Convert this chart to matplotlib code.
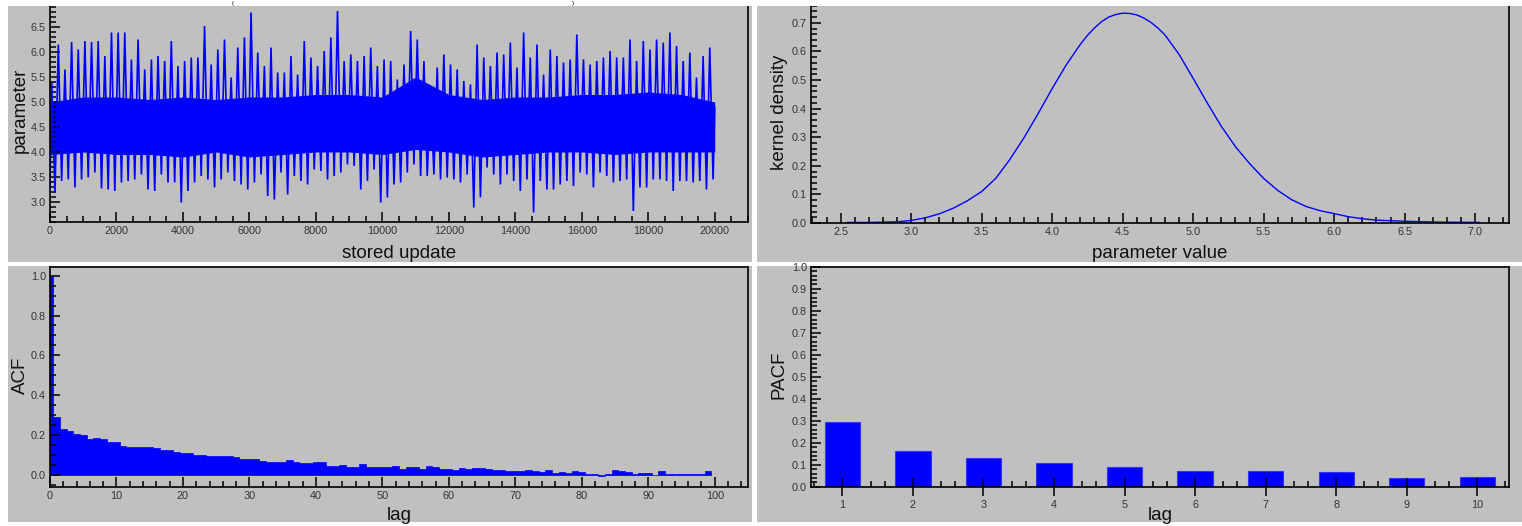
import matplotlib
matplotlib.use("Agg")
import matplotlib.pyplot as plt
from matplotlib.patches import Rectangle
from matplotlib.ticker import MultipleLocator, FixedLocator

plt.rcParams['font.family'] = ['Liberation Sans', 'DejaVu Sans']

# trace: upper / lower envelope per block of 200 stored updates
trace_hi = [5.39, 6.15, 5.65, 6.20, 6.05, 6.22, 6.20, 6.22, 5.92, 6.39,
            6.39, 6.39, 5.85, 6.25, 5.65, 5.85, 5.92, 5.82, 6.22, 5.72,
            5.82, 5.89, 5.89, 6.52, 5.75, 6.05, 6.25, 5.49, 6.09, 6.29,
            6.79, 5.99, 5.72, 6.09, 5.59, 5.59, 5.92, 5.55, 6.22, 5.89,
            5.72, 6.02, 6.29, 6.82, 5.82, 5.95, 5.82, 5.92, 6.09, 5.72,
            5.85, 5.82, 5.45, 5.75, 6.42, 6.25, 5.82, 5.22, 5.69, 5.95,
            5.75, 5.65, 5.42, 5.35, 6.15, 5.89, 5.72, 5.99, 5.95, 6.19,
            5.69, 6.39, 5.89, 6.15, 5.55, 6.05, 5.92, 5.79, 5.85, 6.35,
            5.85, 5.75, 5.82, 5.89, 6.02, 5.89, 5.89, 6.25, 5.82, 6.22,
            6.05, 6.25, 6.19, 6.39, 6.12, 5.82, 5.99, 5.49, 5.92, 6.09]
trace_lo = [3.19, 3.42, 3.45, 3.29, 3.45, 3.49, 3.59, 3.27, 3.25, 3.22,
            3.39, 3.42, 3.45, 3.55, 3.25, 3.22, 3.55, 3.39, 3.39, 2.99,
            3.22, 3.39, 3.52, 3.45, 3.29, 3.45, 3.59, 3.42, 3.35, 3.25,
            3.39, 3.55, 3.12, 3.05, 3.59, 3.15, 3.52, 3.42, 3.35, 3.65,
            3.62, 3.45, 3.52, 3.59, 3.75, 3.72, 3.25, 3.42, 3.65, 2.99,
            3.09, 3.35, 3.39, 3.59, 3.75, 3.52, 3.52, 3.55, 3.45, 3.49,
            3.45, 3.39, 3.55, 2.89, 3.09, 3.69, 3.55, 3.35, 3.55, 3.42,
            3.22, 3.45, 2.79, 3.42, 3.25, 3.25, 3.35, 3.42, 3.32, 3.59,
            3.55, 3.29, 3.59, 3.52, 3.39, 3.42, 3.45, 2.82, 3.29, 3.29,
            3.45, 3.45, 3.42, 3.22, 3.42, 3.42, 3.39, 3.42, 3.25, 3.45]
block_size = 200
first_value = 3.3
last_value = 4.88

# dense core of the trace, every 1000 updates
core_updates = list(range(0, 20001, 1000))
core_hi = [5.0, 5.1, 5.1, 5.05, 5.1, 5.05, 5.1, 5.1, 5.15, 5.15, 5.1,
           5.5, 5.15, 5.05, 5.1, 5.1, 5.15, 5.15, 5.2, 5.15, 5.0]
core_lo = [3.95, 4.0, 3.95, 3.95, 3.9, 4.0, 3.9, 3.95, 4.0, 4.0, 3.95,
           4.05, 4.0, 3.9, 3.95, 4.0, 4.0, 3.95, 4.0, 4.0, 4.0]

# kernel density
kd_x = [2.55, 2.7, 2.9, 3.0, 3.1, 3.2, 3.3, 3.4, 3.5, 3.6, 3.7, 3.8, 3.9,
        4.0, 4.1, 4.2, 4.25, 4.3, 4.35, 4.4, 4.45, 4.5, 4.55, 4.6, 4.65,
        4.7, 4.75, 4.8, 4.9, 5.0, 5.1, 5.2,
        5.3, 5.4, 5.5, 5.6, 5.7, 5.8, 5.9, 6.0, 6.1, 6.2, 6.3, 6.5, 6.75, 7.03]
kd_y = [0.002, 0.002, 0.004, 0.009, 0.018, 0.032, 0.052, 0.078, 0.110,
        0.156, 0.222, 0.298, 0.382, 0.470, 0.553, 0.625, 0.656, 0.682,
        0.704, 0.720, 0.729, 0.734, 0.733, 0.728, 0.717, 0.702, 0.682,
        0.658, 0.590, 0.506, 0.420, 0.338, 0.267,
        0.208, 0.156, 0.114, 0.081, 0.058, 0.043, 0.033, 0.022, 0.015,
        0.010, 0.006, 0.003, 0.002]

# autocorrelation, lags 0..99
acf = [1.0, 0.29, 0.23, 0.22, 0.203, 0.198, 0.18, 0.185, 0.18, 0.165,
       0.165, 0.147, 0.14, 0.14, 0.14, 0.14, 0.134, 0.127, 0.127, 0.115,
       0.11, 0.11, 0.10, 0.10, 0.093, 0.093, 0.093, 0.093, 0.088, 0.081,
       0.081, 0.081, 0.071, 0.066, 0.066, 0.066, 0.076, 0.066, 0.06, 0.06,
       0.066, 0.066, 0.047, 0.047, 0.052, 0.042, 0.042, 0.054, 0.04, 0.04,
       0.039, 0.039, 0.045, 0.028, 0.039, 0.039, 0.028, 0.045, 0.039, 0.032,
       0.028, 0.025, 0.034, 0.03, 0.034, 0.034, 0.03, 0.025, 0.025, 0.02,
       0.02, 0.02, 0.025, 0.02, 0.015, 0.025, 0.008, 0.013, 0.008, 0.018,
       0.013, 0.006, 0.006, -0.003, 0.006, 0.023, 0.018, 0.013, 0.006, 0.012,
       0.012, 0.0, 0.018, 0.006, 0.006, 0.006, 0.006, 0.006, 0.006, 0.018]

# partial autocorrelation, lags 1..10
pacf_lags = [1, 2, 3, 4, 5, 6, 7, 8, 9, 10]
pacf = [0.295, 0.162, 0.13, 0.106, 0.089, 0.07, 0.07, 0.065, 0.038, 0.042]

W, H = 1522, 526
GRAY = '#c0c0c0'
BLUE = '#0000ff'
TICKCOL = '#333333'

fig = plt.figure(figsize=(W / 100, H / 100), dpi=100, facecolor='white')


def px_axes(left, right, top, bottom):
    return fig.add_axes([left / W, 1 - bottom / H, (right - left) / W, (bottom - top) / H])


def panel(x0, x1, y0, y1):
    fig.patches.append(Rectangle((x0 / W, 1 - y1 / H), (x1 - x0) / W, (y1 - y0) / H,
                                 transform=fig.transFigure, facecolor=GRAY,
                                 edgecolor='none', zorder=-5))


def style(ax):
    ax.set_facecolor(GRAY)
    for s in ax.spines.values():
        s.set_color('black')
        s.set_linewidth(1.2)
    ax.tick_params(which='both', direction='in', color='black', labelcolor=TICKCOL,
                   labelsize=7.8, width=1.1, top=False, right=False)
    ax.tick_params(which='major', length=7, pad=3)
    ax.tick_params(which='minor', length=4)


panel(8, 752, 6, 262)
panel(757, W, 6, 262)
panel(8, 752, 266, 522)
panel(757, W, 266, 522)

# trace
ax1 = px_axes(50, 748, -4, 222)
style(ax1)
ax1.spines['top'].set_visible(False)
tx, ty = [0], [first_value]
for i, (hi, lo) in enumerate(zip(trace_hi, trace_lo)):
    tx += [i * block_size + 50, i * block_size + 150]
    ty += [hi, lo]
tx.append(20000)
ty.append(last_value)
ax1.fill_between(core_updates, core_lo, core_hi, color=BLUE, lw=0)
ax1.plot(tx, ty, color=BLUE, lw=1.2, solid_joinstyle='miter')
ax1.set_xlim(0, 21000)
ax1.set_ylim(2.6, 7.12)
ax1.xaxis.set_major_locator(MultipleLocator(2000))
ax1.xaxis.set_minor_locator(MultipleLocator(500))
ax1.yaxis.set_major_locator(FixedLocator([3.0, 3.5, 4.0, 4.5, 5.0, 5.5, 6.0, 6.5]))
ax1.yaxis.set_minor_locator(MultipleLocator(0.1))
ax1.set_yticklabels(['3.0', '3.5', '4.0', '4.5', '5.0', '5.5', '6.0', '6.5'])

# kernel density
ax2 = px_axes(811, 1509, -4, 223)
style(ax2)
ax2.spines['top'].set_visible(False)
ax2.plot(kd_x, kd_y, color=BLUE, lw=1.0)
ax2.set_xlim(2.29, 7.24)
ax2.set_ylim(0, 0.794)
ax2.xaxis.set_major_locator(FixedLocator([2.5, 3.0, 3.5, 4.0, 4.5, 5.0, 5.5, 6.0, 6.5, 7.0]))
ax2.xaxis.set_minor_locator(MultipleLocator(0.1))
ax2.yaxis.set_major_locator(FixedLocator([0.0, 0.1, 0.2, 0.3, 0.4, 0.5, 0.6, 0.7]))
ax2.yaxis.set_minor_locator(MultipleLocator(0.02))
ax2.set_xticklabels(['2.5', '3.0', '3.5', '4.0', '4.5', '5.0', '5.5', '6.0', '6.5', '7.0'])
ax2.set_yticklabels(['0.0', '0.1', '0.2', '0.3', '0.4', '0.5', '0.6', '0.7'])

# ACF
ax3 = px_axes(50, 748, 266.7, 486.7)
style(ax3)
ax3.bar(range(len(acf)), acf, width=1.0, color=BLUE, edgecolor=BLUE, lw=0.5)
ax3.set_xlim(0, 105)
ax3.set_ylim(-0.059, 1.045)
ax3.xaxis.set_minor_locator(MultipleLocator(2))
ax3.set_xticks(range(0, 101, 10))
ax3.yaxis.set_major_locator(FixedLocator([0.0, 0.2, 0.4, 0.6, 0.8, 1.0]))
ax3.yaxis.set_minor_locator(MultipleLocator(0.05))
ax3.set_yticklabels(['0.0', '0.2', '0.4', '0.6', '0.8', '1.0'])

# PACF
ax4 = px_axes(811, 1509, 266.7, 486.7)
style(ax4)
ax4.bar(pacf_lags, pacf, width=0.5, color=BLUE, edgecolor='#3333ff', lw=0.8)
ax4.set_xlim(0.555, 10.45)
ax4.set_ylim(0, 1.0)
ax4.set_xticks(pacf_lags)
minor_x = [k + d for k in pacf_lags for d in (-0.4, 0.4)]
ax4.xaxis.set_minor_locator(FixedLocator(minor_x))
ax4.tick_params(axis='x', which='major', direction='inout', length=13)
ax4.yaxis.set_minor_locator(MultipleLocator(0.02))
ax4.set_yticks([i / 10 for i in range(11)])
ax4.set_yticklabels(['%.1f' % (i / 10) for i in range(11)])

# axis titles
lab = dict(fontsize=13.5, color='#111111', ha='center', va='center')
fig.text(20 / W, 1 - 110 / H, 'parameter', rotation=90, **lab)
fig.text(399 / W, 1 - 254 / H, 'stored update', **lab)
fig.text(779 / W, 1 - 112 / H, 'kernel density', rotation=90, **lab)
fig.text(1160 / W, 1 - 254 / H, 'parameter value', **lab)
fig.text(20 / W, 1 - 375 / H, 'ACF', rotation=90, **lab)
fig.text(399 / W, 1 - 516 / H, 'lag', **lab)
fig.text(779 / W, 1 - 375 / H, 'PACF', rotation=90, **lab)
fig.text(1160 / W, 1 - 516 / H, 'lag', **lab)

# white strip at the very top with the remains of the title brackets
fig.patches.append(Rectangle((0, 1 - 6 / H), 1, 6 / H + 0.01, transform=fig.transFigure,
                             facecolor='white', edgecolor='none', zorder=10))
fig.text(233 / W, 1 - 3 / H, '(', fontsize=4.5, ha='center', va='center', zorder=11)
fig.text(573 / W, 1 - 3 / H, ')', fontsize=4.5, ha='center', va='center', zorder=11)

fig.savefig('out.png', dpi=100, facecolor='white')
